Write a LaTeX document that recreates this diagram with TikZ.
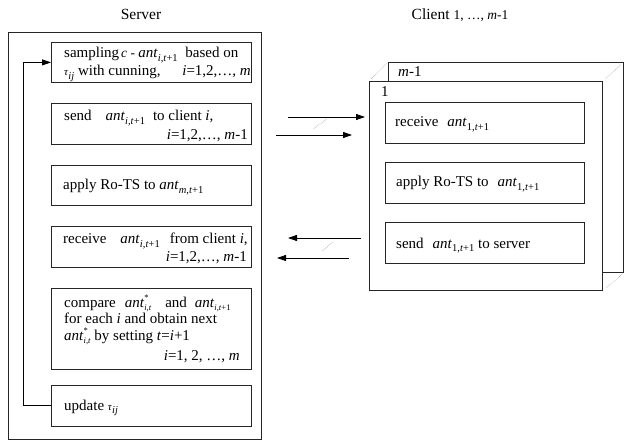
\documentclass[tikz,border=0pt]{standalone}
\usepackage{fontspec}
\setmainfont{Liberation Serif}
\usetikzlibrary{arrows.meta}
% small lowered / raised indices set in text fonts
\newcommand\sbx[1]{\raisebox{-3.5pt}{\fontsize{10.5}{11}\selectfont #1}}
\newcommand\sbxs[1]{\raisebox{-2.8pt}{\fontsize{8.5}{9}\selectfont #1}}
\newcommand\spx[1]{\raisebox{7pt}{\fontsize{8.5}{9}\selectfont #1}}
\newcommand\ant[1]{\textit{ant}\sbx{#1}}
\newcommand\ants[1]{\textit{ant}\sbxs{#1}}
\newcommand\antstar[1]{\textit{ant}\rlap{\spx{*}}\sbxs{#1}}
\newcommand\tauij{{\fontsize{11}{11}\selectfont\textit{τ}}\sbx{\textit{ij}}}
\begin{document}
\begin{tikzpicture}[x=1pt,y=-1pt,
  box/.style={draw=black!85, line width=0.8pt, fill=white, inner sep=0pt, anchor=north west},
  txt/.style={inner sep=0pt, anchor=base west, font=\fontsize{15}{17}\selectfont},
  txtr/.style={txt, anchor=base east},
  ttl/.style={inner sep=0pt, anchor=base},
  arr/.style={-{Triangle[length=9pt,width=6pt]}, line width=0.8pt},
  ghost/.style={densely dotted, line width=0.4pt, black!60}]
\useasboundingbox (0,0) rectangle (625,441);

% ---------- titles ----------
\node[ttl, font=\fontsize{15.5}{17}\selectfont] (ttlsrv) at (141,20) {Server};
\node[ttl, font=\fontsize{15.5}{17}\selectfont] (ttlcli) at (460,20) {Client {\fontsize{13.5}{15}\selectfont 1, …, \textit{m}-1}};

% ---------- server ----------
\node[box, minimum width=253pt, minimum height=407pt] (srv) at (8,32) {};
\node[box, minimum width=200pt, minimum height=40pt] (s1) at (51,42) {};
\node[box, minimum width=200pt, minimum height=41pt] (s2) at (51,103) {};
\node[box, minimum width=200pt, minimum height=40pt] (s3) at (51,165) {};
\node[box, minimum width=200pt, minimum height=41pt] (s4) at (51,226) {};
\node[box, minimum width=200pt, minimum height=81pt] (s5) at (51,288) {};
\node[box, minimum width=200pt, minimum height=41pt] (s6) at (51,385) {};

\node[txt] (s1a) at (64,58) {sampling\hspace{2pt}{\fontsize{13.5}{14}\selectfont\textit{c} - }\ant{\textit{i},\textit{t}+1}\hspace{4pt} based on};
\node[txt] (s1b) at (64,76) {\tauij{} with cunning,};
\node[txtr] (s1c) at (251,76) {\textit{i}=1,2,…, \textit{m}};

\node[txt] (s2a) at (64,121) {send\hspace{14pt}\ant{\textit{i},\textit{t}+1}\hspace{8pt}to client \textit{i},};
\node[txtr] (s2b) at (248,140) {\textit{i}=1,2,…, \textit{m}-1};

\node[txt] (s3a) at (63,190) {apply Ro-TS to \ant{\textit{m},\textit{t}+1}};

\node[txt] (s4a) at (63,244) {receive\hspace{14pt}\ant{\textit{i},\textit{t}+1}\hspace{10pt}from client \textit{i},};
\node[txtr] (s4b) at (247,262) {\textit{i}=1,2,…, \textit{m}-1};

\node[txt] (s5a) at (64,307.5) {compare\hspace{9pt}\antstar{\textit{i},\textit{t}}\hspace{14pt}and\hspace{8pt}\ants{\textit{i},\textit{t}+1}};
\node[txt] (s5b) at (64,324) {for each \textit{i} and obtain next};
\node[txt] (s5c) at (64,341) {\antstar{\textit{i},\textit{t}} by setting \textit{t}=\textit{i}+1};
\node[txtr] (s5d) at (240,360.5) {\textit{i}=1, 2, …, \textit{m}};

\node[txt] (s6a) at (64,410) {update \tauij};

% loop back from the update step to the sampling step
\coordinate (loopx) at (23,0);
\draw[arr] (s6.west) -- (s6.west -| loopx) |- (s1.west);

% ---------- clients (stacked frames) ----------
\node[box, minimum width=235pt, minimum height=210pt] (cback) at (388,62) {};
\node[box, minimum width=233pt, minimum height=209pt] (cfront) at (369,81) {};
\draw[ghost, shorten <=3pt, shorten >=1pt] (cfront.north west) -- (cback.north west);
\draw[ghost, shorten <=4pt, shorten >=4pt] (cfront.north east) -- (cback.north east);
\draw[ghost, shorten <=5pt, shorten >=2pt] (cfront.south east) -- (cback.south east);

\node[txt] (cm) at (398,77) {\textit{m}-1};
\node[txt] (cone) at (381,96.5) {1};

\node[box, minimum width=199pt, minimum height=41pt] (c1) at (385,102) {};
\node[box, minimum width=199pt, minimum height=41pt] (c2) at (385,162) {};
\node[box, minimum width=199pt, minimum height=41pt] (c3) at (385,222) {};
\node[txt] (c1a) at (395,127) {receive\hspace{9pt}\ant{1,\textit{t}+1}};
\node[txt] (c2a) at (396,187) {apply Ro-TS to\hspace{9pt}\ant{1,\textit{t}+1}};
\node[txt] (c3a) at (396,248.5) {send\hspace{9pt}\ant{1,\textit{t}+1} to server};

% ---------- messages between server and clients ----------
\coordinate (o1s) at (288,117);  \coordinate (o1e) at (365,117);
\coordinate (o2s) at (276,135);  \coordinate (o2e) at (352,135);
\coordinate (o3s) at (313,129);  \coordinate (o3e) at (327,119);
\draw[arr] (o1s) -- (o1e);
\draw[arr] (o2s) -- (o2e);
\draw[ghost] (o3s) -- (o3e);

\coordinate (b1s) at (361,238);  \coordinate (b1e) at (288,238);
\coordinate (b2s) at (349,258);  \coordinate (b2e) at (277,258);
\coordinate (b3s) at (322,251);  \coordinate (b3e) at (333,242);
\draw[arr] (b1s) -- (b1e);
\draw[arr] (b2s) -- (b2e);
\draw[ghost] (b3s) -- (b3e);
\end{tikzpicture}
\end{document}
